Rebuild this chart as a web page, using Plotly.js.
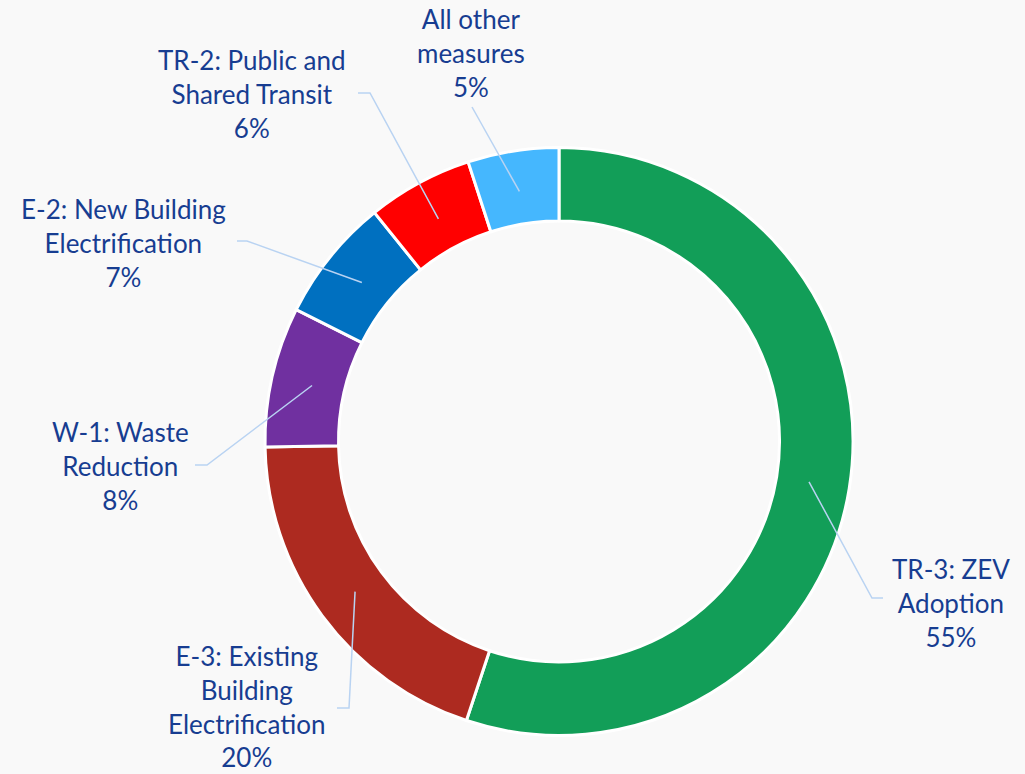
<!DOCTYPE html>
<html>
<head>
<meta charset="utf-8">
<script src="https://cdn.plot.ly/plotly-3.0.1.min.js"></script>
<style>
  html, body { margin: 0; padding: 0; background: #f9f9f9; }
  #chart { width: 1025px; height: 774px; }
</style>
</head>
<body>
<div id="chart"></div>
<script>
// ---- data ----
const measures = [
  "TR-3: ZEV<br>Adoption",
  "E-3: Existing<br>Building<br>Electrification",
  "W-1: Waste<br>Reduction",
  "E-2: New Building<br>Electrification",
  "TR-2: Public and<br>Shared Transit",
  "All other<br>measures"
];
const shares = [55.1, 19.6, 7.7, 6.8, 5.8, 5.0];
const shareLabels = ["55%", "20%", "8%", "7%", "6%", "5%"];
const sliceColors = ["#129e58", "#ad2a20", "#7030a0", "#0070c0", "#ff0000", "#45b7fe"];

// ---- layout (pixel positions) ----
const W = 1025, H = 774;
const CX = 559, CY = 441.5, R = 294, HOLE = 0.75;
// label centers and leader elbow/end points, in pixels
const labelPos = [[951, 603], [247, 706], [120, 466], [123, 243], [252, 94], [471, 53]];
const elbowPos = [[872, 598], [349, 708], [207, 465], [247, 241], [370, 93], [472, 107]];
const tailPos  = [[883, 598], [337, 708], [195, 465], [237, 241], [358, 93], [472, 107]];

const px = x => x / W;
const py = y => 1 - y / H;

const total = shares.reduce((a, b) => a + b, 0);
const midR = R * (1 + HOLE) / 2 - 4;
let cum = 0;
const shapes = [];
const annotations = [];
shares.forEach((v, i) => {
  const midFrac = (cum + v / 2) / total;
  cum += v;
  const ang = midFrac * 2 * Math.PI;
  const sx = CX + midR * Math.sin(ang);
  const sy = CY - midR * Math.cos(ang);
  const [ex, ey] = elbowPos[i];
  const [tx, ty] = tailPos[i];
  shapes.push({
    type: "path", xref: "paper", yref: "paper",
    path: `M ${px(sx)} ${py(sy)} L ${px(ex)} ${py(ey)} L ${px(tx)} ${py(ty)}`,
    line: { color: "#b9d3f2", width: 1.5 }
  });
  annotations.push({
    xref: "paper", yref: "paper",
    x: px(labelPos[i][0]), y: py(labelPos[i][1]),
    xanchor: "center", yanchor: "middle",
    text: measures[i] + "<br>" + shareLabels[i],
    showarrow: false, align: "center",
    font: { family: "Lato, sans-serif", size: 26, color: "#173d91" }
  });
});

const trace = {
  type: "pie",
  labels: measures,
  values: shares,
  hole: HOLE,
  sort: false,
  direction: "clockwise",
  rotation: 0,
  textinfo: "none",
  hoverinfo: "label+percent",
  marker: { colors: sliceColors, line: { color: "#ffffff", width: 3 } },
  domain: { x: [px(CX - R), px(CX + R)], y: [py(CY + R), py(CY - R)] },
  showlegend: false
};

Plotly.newPlot("chart", [trace], {
  width: W, height: H,
  margin: { l: 0, r: 0, t: 0, b: 0 },
  paper_bgcolor: "#f9f9f9",
  plot_bgcolor: "#f9f9f9",
  showlegend: false,
  shapes: shapes,
  annotations: annotations
}, { displayModeBar: false, staticPlot: true });
</script>
</body>
</html>
